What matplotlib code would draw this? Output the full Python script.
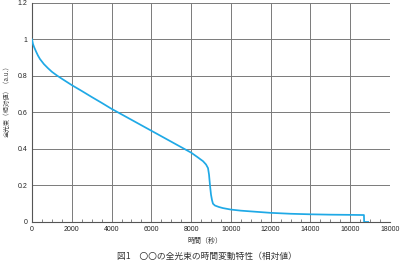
import matplotlib
matplotlib.use("Agg")
import matplotlib.pyplot as plt
from matplotlib.ticker import MultipleLocator

time_s = [0, 50, 100, 200, 300, 400, 600, 800, 1000, 1250, 1500, 2000, 2500, 3000,
          3500, 4000, 4500, 5000, 5500, 6000, 6500, 7000, 7500, 8000, 8300, 8600,
          8750, 8850, 8900, 8950, 9000, 9050, 9100, 9200, 9400, 9600, 10000, 10500,
          11000, 12000, 13000, 14000, 15000, 16000, 16690, 16700, 16900]
flux = [1.0, 0.975, 0.96, 0.935, 0.912, 0.893, 0.865, 0.843, 0.823, 0.803, 0.785, 0.75, 0.718,
        0.685, 0.653, 0.62, 0.59, 0.56, 0.53, 0.50, 0.47, 0.44, 0.41, 0.38, 0.357, 0.333,
        0.315, 0.295, 0.26, 0.20, 0.15, 0.12, 0.10, 0.09, 0.082, 0.076, 0.068, 0.062,
        0.058, 0.050, 0.045, 0.042, 0.040, 0.039, 0.038, 0.0, 0.0]

x_ticks = [0, 2000, 4000, 6000, 8000, 10000, 12000, 14000, 16000, 18000]
y_ticks = [0, 0.2, 0.4, 0.6, 0.8, 1, 1.2]
y_ticklabels = ["0", "0.2", "0.4", "0.6", "0.8", "1", "1.2"]

jp = ["Noto Sans CJK JP", "DejaVu Sans"]
plt.rcParams['font.family'] = ['Liberation Sans', 'Noto Sans CJK JP', 'DejaVu Sans']

fig = plt.figure(figsize=(4.0, 2.63), dpi=100)
ax = fig.add_axes([0.08, 0.156, 0.895, 0.8326])

ax.plot(time_s, flux, color="#1FA9E6", lw=1.25, zorder=3)

ax.set_xlim(0, 18000)
ax.set_ylim(0, 1.2)
ax.set_xticks(x_ticks)
ax.set_xticklabels([str(t) for t in x_ticks])
ax.set_yticks(y_ticks)
ax.set_yticklabels(y_ticklabels)
ax.xaxis.set_minor_locator(MultipleLocator(500))
ax.tick_params(axis='both', which='major', labelsize=5, length=0, pad=3, colors="#222222")
ax.tick_params(axis='x', which='minor', direction='in', length=2, width=0.5, colors="#555555")
ax.grid(True, which='major', color="#7a7a7a", lw=0.7)
for s in ["top", "right"]:
    ax.spines[s].set_visible(False)
for s in ["left", "bottom"]:
    ax.spines[s].set_color("#555555")
    ax.spines[s].set_linewidth(0.8)

fig.text(0.018, 0.62, "全光束（相対値）（a.u.）", rotation=90, fontsize=4.6, family=jp,
         ha='center', va='center', color="#444444")
fig.text(0.512, 0.083, "時間（秒）", fontsize=5, family=jp, ha='center', va='center', color="#333333")
fig.text(0.517, 0.024, "図1　〇〇の全光束の時間変動特性（相対値）", fontsize=6.3, family=jp,
         ha='center', va='center', color="#333333")

fig.savefig("out.png", dpi=100)
